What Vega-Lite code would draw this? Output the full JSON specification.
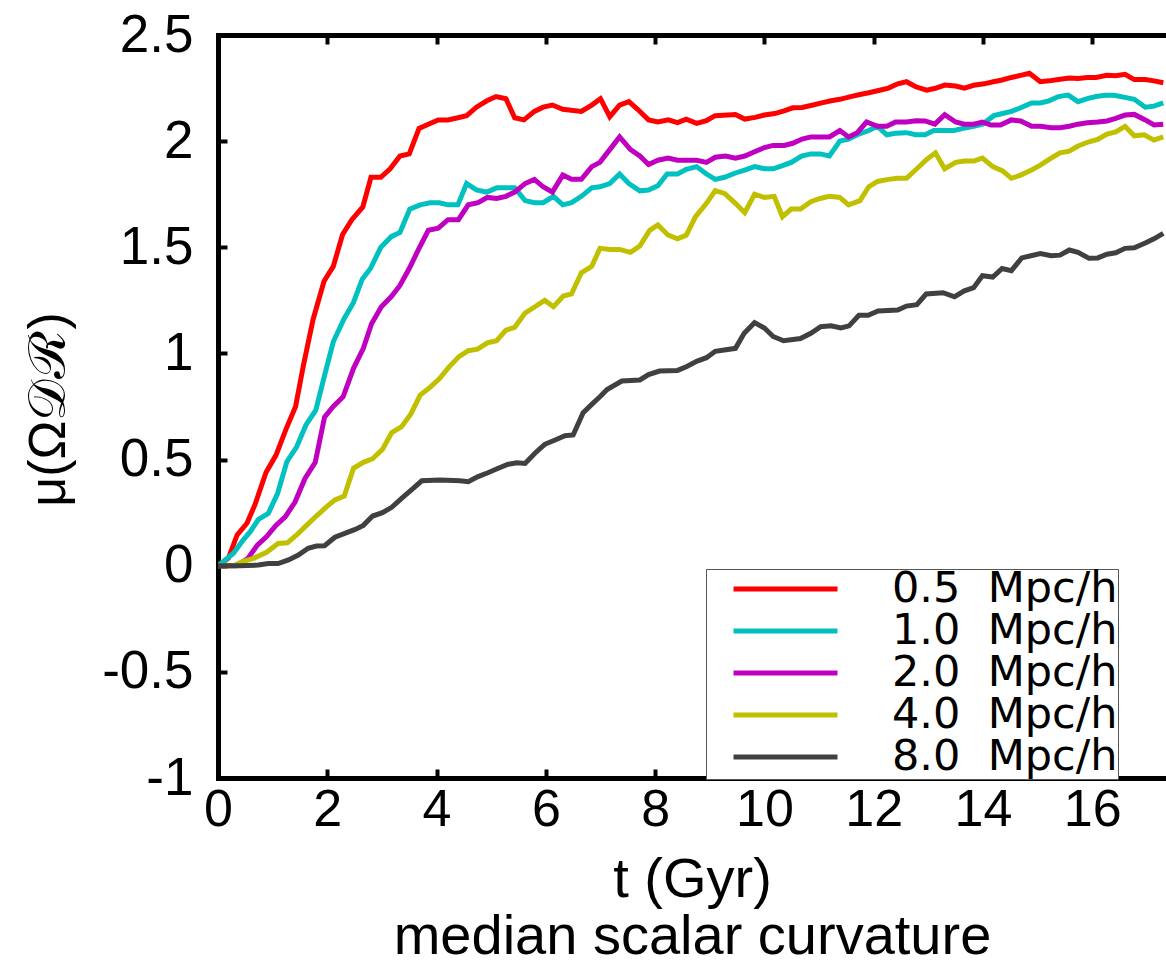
{
"$schema": "https://vega.github.io/schema/vega-lite/v6.json",
"width": 948, "height": 743,
"autosize": "none",
"padding": {"left": 218, "top": 35, "right": 0, "bottom": 186},
"background": "white",
"config": {"view": {"stroke": null}, "font": "Liberation Sans"},
"data": {"values": [
{"s":"0.5","t":0,"v":0},{"s":"0.5","t":0.19,"v":0.035},{"s":"0.5","t":0.35,"v":0.145},{"s":"0.5","t":0.53,"v":0.2},{"s":"0.5","t":0.68,"v":0.29},{"s":"0.5","t":0.88,"v":0.44},{"s":"0.5","t":1.06,"v":0.52},{"s":"0.5","t":1.24,"v":0.64},{"s":"0.5","t":1.42,"v":0.75},{"s":"0.5","t":1.56,"v":0.94},{"s":"0.5","t":1.74,"v":1.16},{"s":"0.5","t":1.94,"v":1.34},{"s":"0.5","t":2.11,"v":1.41},{"s":"0.5","t":2.28,"v":1.56},{"s":"0.5","t":2.45,"v":1.63},{"s":"0.5","t":2.65,"v":1.69},{"s":"0.5","t":2.8,"v":1.83},{"s":"0.5","t":2.98,"v":1.83},{"s":"0.5","t":3.15,"v":1.87},{"s":"0.5","t":3.33,"v":1.93},{"s":"0.5","t":3.5,"v":1.94},{"s":"0.5","t":3.68,"v":2.06},{"s":"0.5","t":3.85,"v":2.08},{"s":"0.5","t":4.03,"v":2.1},{"s":"0.5","t":4.21,"v":2.1},{"s":"0.5","t":4.39,"v":2.11},{"s":"0.5","t":4.55,"v":2.12},{"s":"0.5","t":4.73,"v":2.16},{"s":"0.5","t":4.92,"v":2.19},{"s":"0.5","t":5.09,"v":2.21},{"s":"0.5","t":5.27,"v":2.2},{"s":"0.5","t":5.43,"v":2.11},{"s":"0.5","t":5.6,"v":2.1},{"s":"0.5","t":5.79,"v":2.14},{"s":"0.5","t":5.95,"v":2.16},{"s":"0.5","t":6.12,"v":2.17},{"s":"0.5","t":6.31,"v":2.15},{"s":"0.5","t":6.65,"v":2.14},{"s":"0.5","t":6.84,"v":2.17},{"s":"0.5","t":7.0,"v":2.2},{"s":"0.5","t":7.17,"v":2.115},{"s":"0.5","t":7.35,"v":2.17},{"s":"0.5","t":7.52,"v":2.186},{"s":"0.5","t":7.68,"v":2.15},{"s":"0.5","t":7.88,"v":2.1},{"s":"0.5","t":8.05,"v":2.09},{"s":"0.5","t":8.24,"v":2.1},{"s":"0.5","t":8.41,"v":2.087},{"s":"0.5","t":8.57,"v":2.103},{"s":"0.5","t":8.76,"v":2.084},{"s":"0.5","t":8.94,"v":2.097},{"s":"0.5","t":9.1,"v":2.12},{"s":"0.5","t":9.47,"v":2.125},{"s":"0.5","t":9.64,"v":2.104},{"s":"0.5","t":9.83,"v":2.112},{"s":"0.5","t":10.0,"v":2.123},{"s":"0.5","t":10.19,"v":2.13},{"s":"0.5","t":10.36,"v":2.143},{"s":"0.5","t":10.52,"v":2.157},{"s":"0.5","t":10.69,"v":2.159},{"s":"0.5","t":10.89,"v":2.17},{"s":"0.5","t":11.05,"v":2.18},{"s":"0.5","t":11.22,"v":2.19},{"s":"0.5","t":11.38,"v":2.197},{"s":"0.5","t":11.58,"v":2.21},{"s":"0.5","t":11.75,"v":2.22},{"s":"0.5","t":11.91,"v":2.228},{"s":"0.5","t":12.11,"v":2.24},{"s":"0.5","t":12.27,"v":2.25},{"s":"0.5","t":12.44,"v":2.27},{"s":"0.5","t":12.6,"v":2.28},{"s":"0.5","t":12.77,"v":2.256},{"s":"0.5","t":12.97,"v":2.24},{"s":"0.5","t":13.13,"v":2.249},{"s":"0.5","t":13.3,"v":2.264},{"s":"0.5","t":13.5,"v":2.26},{"s":"0.5","t":13.66,"v":2.25},{"s":"0.5","t":13.83,"v":2.263},{"s":"0.5","t":14.02,"v":2.27},{"s":"0.5","t":14.19,"v":2.28},{"s":"0.5","t":14.35,"v":2.288},{"s":"0.5","t":14.52,"v":2.3},{"s":"0.5","t":14.69,"v":2.31},{"s":"0.5","t":14.85,"v":2.32},{"s":"0.5","t":15.05,"v":2.28},{"s":"0.5","t":15.21,"v":2.284},{"s":"0.5","t":15.38,"v":2.29},{"s":"0.5","t":15.58,"v":2.297},{"s":"0.5","t":15.74,"v":2.295},{"s":"0.5","t":15.91,"v":2.3},{"s":"0.5","t":16.07,"v":2.3},{"s":"0.5","t":16.27,"v":2.31},{"s":"0.5","t":16.43,"v":2.308},{"s":"0.5","t":16.6,"v":2.315},{"s":"0.5","t":16.77,"v":2.29},{"s":"0.5","t":16.97,"v":2.29},{"s":"0.5","t":17.13,"v":2.284},{"s":"0.5","t":17.3,"v":2.275},
{"s":"1.0","t":0,"v":0},{"s":"1.0","t":0.28,"v":0.058},{"s":"1.0","t":0.46,"v":0.121},{"s":"1.0","t":0.59,"v":0.16},{"s":"1.0","t":0.74,"v":0.218},{"s":"1.0","t":0.92,"v":0.246},{"s":"1.0","t":1.09,"v":0.34},{"s":"1.0","t":1.26,"v":0.49},{"s":"1.0","t":1.44,"v":0.56},{"s":"1.0","t":1.61,"v":0.663},{"s":"1.0","t":1.79,"v":0.733},{"s":"1.0","t":1.96,"v":0.906},{"s":"1.0","t":2.11,"v":1.055},{"s":"1.0","t":2.31,"v":1.165},{"s":"1.0","t":2.48,"v":1.24},{"s":"1.0","t":2.64,"v":1.35},{"s":"1.0","t":2.79,"v":1.4},{"s":"1.0","t":2.98,"v":1.5},{"s":"1.0","t":3.17,"v":1.55},{"s":"1.0","t":3.33,"v":1.57},{"s":"1.0","t":3.51,"v":1.68},{"s":"1.0","t":3.7,"v":1.7},{"s":"1.0","t":3.88,"v":1.71},{"s":"1.0","t":4.05,"v":1.71},{"s":"1.0","t":4.21,"v":1.7},{"s":"1.0","t":4.39,"v":1.7},{"s":"1.0","t":4.55,"v":1.8},{"s":"1.0","t":4.73,"v":1.77},{"s":"1.0","t":4.92,"v":1.76},{"s":"1.0","t":5.1,"v":1.78},{"s":"1.0","t":5.27,"v":1.78},{"s":"1.0","t":5.43,"v":1.78},{"s":"1.0","t":5.62,"v":1.72},{"s":"1.0","t":5.79,"v":1.71},{"s":"1.0","t":5.95,"v":1.71},{"s":"1.0","t":6.14,"v":1.74},{"s":"1.0","t":6.31,"v":1.7},{"s":"1.0","t":6.47,"v":1.71},{"s":"1.0","t":6.65,"v":1.74},{"s":"1.0","t":6.84,"v":1.78},{"s":"1.0","t":6.99,"v":1.785},{"s":"1.0","t":7.17,"v":1.8},{"s":"1.0","t":7.35,"v":1.845},{"s":"1.0","t":7.52,"v":1.8},{"s":"1.0","t":7.72,"v":1.766},{"s":"1.0","t":7.88,"v":1.77},{"s":"1.0","t":8.05,"v":1.79},{"s":"1.0","t":8.22,"v":1.845},{"s":"1.0","t":8.41,"v":1.845},{"s":"1.0","t":8.57,"v":1.867},{"s":"1.0","t":8.76,"v":1.88},{"s":"1.0","t":8.94,"v":1.845},{"s":"1.0","t":9.1,"v":1.82},{"s":"1.0","t":9.27,"v":1.83},{"s":"1.0","t":9.47,"v":1.85},{"s":"1.0","t":9.64,"v":1.864},{"s":"1.0","t":9.82,"v":1.88},{"s":"1.0","t":10.0,"v":1.87},{"s":"1.0","t":10.16,"v":1.87},{"s":"1.0","t":10.33,"v":1.885},{"s":"1.0","t":10.49,"v":1.9},{"s":"1.0","t":10.68,"v":1.93},{"s":"1.0","t":10.85,"v":1.94},{"s":"1.0","t":11.02,"v":1.94},{"s":"1.0","t":11.19,"v":1.93},{"s":"1.0","t":11.38,"v":2.0},{"s":"1.0","t":11.54,"v":2.01},{"s":"1.0","t":11.7,"v":2.03},{"s":"1.0","t":11.91,"v":2.05},{"s":"1.0","t":12.07,"v":2.07},{"s":"1.0","t":12.24,"v":2.03},{"s":"1.0","t":12.4,"v":2.037},{"s":"1.0","t":12.6,"v":2.04},{"s":"1.0","t":12.77,"v":2.03},{"s":"1.0","t":12.94,"v":2.03},{"s":"1.0","t":13.1,"v":2.05},{"s":"1.0","t":13.3,"v":2.05},{"s":"1.0","t":13.47,"v":2.05},{"s":"1.0","t":13.64,"v":2.06},{"s":"1.0","t":13.83,"v":2.07},{"s":"1.0","t":13.99,"v":2.08},{"s":"1.0","t":14.2,"v":2.12},{"s":"1.0","t":14.36,"v":2.13},{"s":"1.0","t":14.52,"v":2.14},{"s":"1.0","t":14.69,"v":2.157},{"s":"1.0","t":14.89,"v":2.18},{"s":"1.0","t":15.05,"v":2.18},{"s":"1.0","t":15.21,"v":2.19},{"s":"1.0","t":15.38,"v":2.21},{"s":"1.0","t":15.56,"v":2.217},{"s":"1.0","t":15.74,"v":2.186},{"s":"1.0","t":15.91,"v":2.2},{"s":"1.0","t":16.07,"v":2.21},{"s":"1.0","t":16.24,"v":2.216},{"s":"1.0","t":16.4,"v":2.216},{"s":"1.0","t":16.6,"v":2.206},{"s":"1.0","t":16.77,"v":2.197},{"s":"1.0","t":16.97,"v":2.16},{"s":"1.0","t":17.13,"v":2.165},{"s":"1.0","t":17.3,"v":2.18},
{"s":"2.0","t":0,"v":0},{"s":"2.0","t":0.34,"v":0},{"s":"2.0","t":0.55,"v":0.035},{"s":"2.0","t":0.72,"v":0.097},{"s":"2.0","t":0.89,"v":0.137},{"s":"2.0","t":1.06,"v":0.19},{"s":"2.0","t":1.23,"v":0.23},{"s":"2.0","t":1.41,"v":0.3},{"s":"2.0","t":1.59,"v":0.41},{"s":"2.0","t":1.78,"v":0.487},{"s":"2.0","t":1.95,"v":0.7},{"s":"2.0","t":2.11,"v":0.75},{"s":"2.0","t":2.29,"v":0.796},{"s":"2.0","t":2.48,"v":0.93},{"s":"2.0","t":2.66,"v":1.024},{"s":"2.0","t":2.81,"v":1.14},{"s":"2.0","t":2.99,"v":1.22},{"s":"2.0","t":3.18,"v":1.27},{"s":"2.0","t":3.33,"v":1.32},{"s":"2.0","t":3.5,"v":1.4},{"s":"2.0","t":3.67,"v":1.49},{"s":"2.0","t":3.85,"v":1.58},{"s":"2.0","t":4.03,"v":1.59},{"s":"2.0","t":4.21,"v":1.63},{"s":"2.0","t":4.4,"v":1.63},{"s":"2.0","t":4.58,"v":1.7},{"s":"2.0","t":4.76,"v":1.71},{"s":"2.0","t":4.93,"v":1.735},{"s":"2.0","t":5.1,"v":1.73},{"s":"2.0","t":5.27,"v":1.74},{"s":"2.0","t":5.43,"v":1.76},{"s":"2.0","t":5.62,"v":1.8},{"s":"2.0","t":5.79,"v":1.82},{"s":"2.0","t":5.95,"v":1.785},{"s":"2.0","t":6.12,"v":1.76},{"s":"2.0","t":6.31,"v":1.84},{"s":"2.0","t":6.47,"v":1.82},{"s":"2.0","t":6.65,"v":1.82},{"s":"2.0","t":6.84,"v":1.88},{"s":"2.0","t":6.99,"v":1.9},{"s":"2.0","t":7.17,"v":1.96},{"s":"2.0","t":7.35,"v":2.02},{"s":"2.0","t":7.55,"v":1.96},{"s":"2.0","t":7.72,"v":1.93},{"s":"2.0","t":7.88,"v":1.89},{"s":"2.0","t":8.05,"v":1.91},{"s":"2.0","t":8.24,"v":1.92},{"s":"2.0","t":8.41,"v":1.91},{"s":"2.0","t":8.57,"v":1.91},{"s":"2.0","t":8.76,"v":1.91},{"s":"2.0","t":8.94,"v":1.9},{"s":"2.0","t":9.1,"v":1.924},{"s":"2.0","t":9.29,"v":1.93},{"s":"2.0","t":9.47,"v":1.92},{"s":"2.0","t":9.64,"v":1.93},{"s":"2.0","t":9.82,"v":1.95},{"s":"2.0","t":10.0,"v":1.97},{"s":"2.0","t":10.16,"v":1.98},{"s":"2.0","t":10.36,"v":1.98},{"s":"2.0","t":10.52,"v":1.99},{"s":"2.0","t":10.69,"v":2.01},{"s":"2.0","t":10.85,"v":2.02},{"s":"2.0","t":11.03,"v":2.02},{"s":"2.0","t":11.19,"v":2.02},{"s":"2.0","t":11.38,"v":2.05},{"s":"2.0","t":11.54,"v":2.02},{"s":"2.0","t":11.7,"v":2.04},{"s":"2.0","t":11.87,"v":2.09},{"s":"2.0","t":12.07,"v":2.07},{"s":"2.0","t":12.24,"v":2.07},{"s":"2.0","t":12.4,"v":2.09},{"s":"2.0","t":12.6,"v":2.09},{"s":"2.0","t":12.77,"v":2.096},{"s":"2.0","t":12.94,"v":2.095},{"s":"2.0","t":13.12,"v":2.08},{"s":"2.0","t":13.3,"v":2.125},{"s":"2.0","t":13.5,"v":2.09},{"s":"2.0","t":13.66,"v":2.08},{"s":"2.0","t":13.83,"v":2.08},{"s":"2.0","t":13.99,"v":2.09},{"s":"2.0","t":14.15,"v":2.076},{"s":"2.0","t":14.32,"v":2.076},{"s":"2.0","t":14.52,"v":2.1},{"s":"2.0","t":14.69,"v":2.095},{"s":"2.0","t":14.89,"v":2.07},{"s":"2.0","t":15.05,"v":2.07},{"s":"2.0","t":15.25,"v":2.063},{"s":"2.0","t":15.41,"v":2.063},{"s":"2.0","t":15.58,"v":2.07},{"s":"2.0","t":15.74,"v":2.08},{"s":"2.0","t":15.91,"v":2.087},{"s":"2.0","t":16.1,"v":2.09},{"s":"2.0","t":16.27,"v":2.095},{"s":"2.0","t":16.43,"v":2.107},{"s":"2.0","t":16.6,"v":2.123},{"s":"2.0","t":16.77,"v":2.126},{"s":"2.0","t":16.97,"v":2.1},{"s":"2.0","t":17.13,"v":2.076},{"s":"2.0","t":17.3,"v":2.08},
{"s":"4.0","t":0,"v":0},{"s":"4.0","t":0.28,"v":0},{"s":"4.0","t":0.46,"v":0.02},{"s":"4.0","t":0.65,"v":0.035},{"s":"4.0","t":0.89,"v":0.063},{"s":"4.0","t":1.1,"v":0.105},{"s":"4.0","t":1.27,"v":0.108},{"s":"4.0","t":1.44,"v":0.145},{"s":"4.0","t":1.62,"v":0.19},{"s":"4.0","t":1.8,"v":0.234},{"s":"4.0","t":1.99,"v":0.278},{"s":"4.0","t":2.14,"v":0.31},{"s":"4.0","t":2.31,"v":0.328},{"s":"4.0","t":2.48,"v":0.459},{"s":"4.0","t":2.66,"v":0.487},{"s":"4.0","t":2.83,"v":0.504},{"s":"4.0","t":3.01,"v":0.548},{"s":"4.0","t":3.18,"v":0.627},{"s":"4.0","t":3.36,"v":0.655},{"s":"4.0","t":3.53,"v":0.715},{"s":"4.0","t":3.7,"v":0.804},{"s":"4.0","t":3.88,"v":0.84},{"s":"4.0","t":4.05,"v":0.88},{"s":"4.0","t":4.23,"v":0.937},{"s":"4.0","t":4.41,"v":0.985},{"s":"4.0","t":4.58,"v":1.013},{"s":"4.0","t":4.75,"v":1.02},{"s":"4.0","t":4.93,"v":1.05},{"s":"4.0","t":5.1,"v":1.06},{"s":"4.0","t":5.27,"v":1.11},{"s":"4.0","t":5.43,"v":1.123},{"s":"4.0","t":5.62,"v":1.19},{"s":"4.0","t":5.8,"v":1.22},{"s":"4.0","t":5.98,"v":1.25},{"s":"4.0","t":6.14,"v":1.22},{"s":"4.0","t":6.32,"v":1.27},{"s":"4.0","t":6.47,"v":1.28},{"s":"4.0","t":6.65,"v":1.38},{"s":"4.0","t":6.84,"v":1.41},{"s":"4.0","t":6.99,"v":1.495},{"s":"4.0","t":7.18,"v":1.49},{"s":"4.0","t":7.35,"v":1.49},{"s":"4.0","t":7.55,"v":1.476},{"s":"4.0","t":7.72,"v":1.506},{"s":"4.0","t":7.9,"v":1.58},{"s":"4.0","t":8.05,"v":1.605},{"s":"4.0","t":8.24,"v":1.557},{"s":"4.0","t":8.41,"v":1.54},{"s":"4.0","t":8.57,"v":1.557},{"s":"4.0","t":8.74,"v":1.644},{"s":"4.0","t":8.94,"v":1.707},{"s":"4.0","t":9.1,"v":1.767},{"s":"4.0","t":9.27,"v":1.754},{"s":"4.0","t":9.47,"v":1.707},{"s":"4.0","t":9.64,"v":1.663},{"s":"4.0","t":9.82,"v":1.75},{"s":"4.0","t":10.0,"v":1.735},{"s":"4.0","t":10.18,"v":1.74},{"s":"4.0","t":10.33,"v":1.644},{"s":"4.0","t":10.49,"v":1.68},{"s":"4.0","t":10.66,"v":1.68},{"s":"4.0","t":10.85,"v":1.715},{"s":"4.0","t":11.02,"v":1.73},{"s":"4.0","t":11.19,"v":1.74},{"s":"4.0","t":11.38,"v":1.735},{"s":"4.0","t":11.54,"v":1.7},{"s":"4.0","t":11.75,"v":1.72},{"s":"4.0","t":11.91,"v":1.785},{"s":"4.0","t":12.07,"v":1.81},{"s":"4.0","t":12.27,"v":1.82},{"s":"4.0","t":12.44,"v":1.825},{"s":"4.0","t":12.6,"v":1.825},{"s":"4.0","t":12.79,"v":1.87},{"s":"4.0","t":12.97,"v":1.914},{"s":"4.0","t":13.13,"v":1.945},{"s":"4.0","t":13.3,"v":1.87},{"s":"4.0","t":13.5,"v":1.9},{"s":"4.0","t":13.66,"v":1.906},{"s":"4.0","t":13.83,"v":1.906},{"s":"4.0","t":13.99,"v":1.92},{"s":"4.0","t":14.18,"v":1.88},{"s":"4.0","t":14.36,"v":1.86},{"s":"4.0","t":14.52,"v":1.825},{"s":"4.0","t":14.69,"v":1.84},{"s":"4.0","t":14.89,"v":1.864},{"s":"4.0","t":15.05,"v":1.887},{"s":"4.0","t":15.21,"v":1.914},{"s":"4.0","t":15.41,"v":1.945},{"s":"4.0","t":15.58,"v":1.953},{"s":"4.0","t":15.74,"v":1.977},{"s":"4.0","t":15.94,"v":1.997},{"s":"4.0","t":16.1,"v":2.008},{"s":"4.0","t":16.27,"v":2.033},{"s":"4.0","t":16.43,"v":2.044},{"s":"4.0","t":16.6,"v":2.07},{"s":"4.0","t":16.77,"v":2.025},{"s":"4.0","t":16.95,"v":2.03},{"s":"4.0","t":17.13,"v":2.005},{"s":"4.0","t":17.3,"v":2.02},
{"s":"8.0","t":0,"v":0},{"s":"8.0","t":0.4,"v":0},{"s":"8.0","t":0.74,"v":0.003},{"s":"8.0","t":0.92,"v":0.01},{"s":"8.0","t":1.1,"v":0.01},{"s":"8.0","t":1.29,"v":0.027},{"s":"8.0","t":1.47,"v":0.05},{"s":"8.0","t":1.65,"v":0.082},{"s":"8.0","t":1.8,"v":0.093},{"s":"8.0","t":1.95,"v":0.094},{"s":"8.0","t":2.14,"v":0.134},{"s":"8.0","t":2.32,"v":0.152},{"s":"8.0","t":2.5,"v":0.17},{"s":"8.0","t":2.66,"v":0.19},{"s":"8.0","t":2.83,"v":0.234},{"s":"8.0","t":3.01,"v":0.25},{"s":"8.0","t":3.18,"v":0.275},{"s":"8.0","t":3.36,"v":0.317},{"s":"8.0","t":3.54,"v":0.357},{"s":"8.0","t":3.73,"v":0.4},{"s":"8.0","t":4.06,"v":0.404},{"s":"8.0","t":4.43,"v":0.4},{"s":"8.0","t":4.58,"v":0.396},{"s":"8.0","t":4.76,"v":0.42},{"s":"8.0","t":4.94,"v":0.438},{"s":"8.0","t":5.13,"v":0.459},{"s":"8.0","t":5.31,"v":0.478},{"s":"8.0","t":5.47,"v":0.485},{"s":"8.0","t":5.62,"v":0.482},{"s":"8.0","t":5.8,"v":0.53},{"s":"8.0","t":5.98,"v":0.572},{"s":"8.0","t":6.17,"v":0.592},{"s":"8.0","t":6.35,"v":0.612},{"s":"8.0","t":6.5,"v":0.616},{"s":"8.0","t":6.68,"v":0.72},{"s":"8.0","t":6.84,"v":0.76},{"s":"8.0","t":6.99,"v":0.796},{"s":"8.0","t":7.12,"v":0.83},{"s":"8.0","t":7.39,"v":0.87},{"s":"8.0","t":7.72,"v":0.875},{"s":"8.0","t":7.88,"v":0.9},{"s":"8.0","t":8.08,"v":0.917},{"s":"8.0","t":8.41,"v":0.92},{"s":"8.0","t":8.57,"v":0.937},{"s":"8.0","t":8.77,"v":0.964},{"s":"8.0","t":8.94,"v":0.98},{"s":"8.0","t":9.1,"v":1.01},{"s":"8.0","t":9.47,"v":1.024},{"s":"8.0","t":9.63,"v":1.095},{"s":"8.0","t":9.82,"v":1.145},{"s":"8.0","t":10.0,"v":1.12},{"s":"8.0","t":10.16,"v":1.08},{"s":"8.0","t":10.35,"v":1.06},{"s":"8.0","t":10.66,"v":1.07},{"s":"8.0","t":10.85,"v":1.095},{"s":"8.0","t":11.03,"v":1.126},{"s":"8.0","t":11.22,"v":1.13},{"s":"8.0","t":11.4,"v":1.12},{"s":"8.0","t":11.55,"v":1.13},{"s":"8.0","t":11.73,"v":1.18},{"s":"8.0","t":11.9,"v":1.18},{"s":"8.0","t":12.08,"v":1.2},{"s":"8.0","t":12.44,"v":1.204},{"s":"8.0","t":12.6,"v":1.223},{"s":"8.0","t":12.79,"v":1.23},{"s":"8.0","t":12.96,"v":1.28},{"s":"8.0","t":13.27,"v":1.286},{"s":"8.0","t":13.48,"v":1.267},{"s":"8.0","t":13.66,"v":1.295},{"s":"8.0","t":13.83,"v":1.31},{"s":"8.0","t":13.99,"v":1.366},{"s":"8.0","t":14.18,"v":1.36},{"s":"8.0","t":14.35,"v":1.4},{"s":"8.0","t":14.52,"v":1.39},{"s":"8.0","t":14.71,"v":1.45},{"s":"8.0","t":14.88,"v":1.46},{"s":"8.0","t":15.05,"v":1.47},{"s":"8.0","t":15.25,"v":1.46},{"s":"8.0","t":15.41,"v":1.463},{"s":"8.0","t":15.58,"v":1.487},{"s":"8.0","t":15.74,"v":1.476},{"s":"8.0","t":15.94,"v":1.448},{"s":"8.0","t":16.1,"v":1.45},{"s":"8.0","t":16.27,"v":1.467},{"s":"8.0","t":16.43,"v":1.474},{"s":"8.0","t":16.6,"v":1.495},{"s":"8.0","t":16.77,"v":1.498},{"s":"8.0","t":16.97,"v":1.52},{"s":"8.0","t":17.13,"v":1.54},{"s":"8.0","t":17.3,"v":1.566}
]},
"layer": [
{"mark": {"type": "line", "strokeWidth": 5, "clip": true},
 "encoding": {
  "x": {"field": "t", "type": "quantitative",
        "scale": {"domain": [0, 17.35], "nice": false, "zero": false},
        "axis": {"orient": "bottom", "values": [0,2,4,6,8,10,12,14,16], "labelExpr": "'' + datum.value",
                 "labelFontSize": 52, "labelColor": "black", "labelPadding": 15, "labelFlush": false,
                 "tickSize": -9, "tickWidth": 4, "tickColor": "black",
                 "domainColor": "black", "domainWidth": 5, "domainCap": "square", "grid": false,
                 "title": ["t (Gyr)", "median scalar curvature"], "titleFontSize": 56, "titleFontWeight": "normal",
                 "titleColor": "black", "titleLineHeight": 57, "titleBaseline": "alphabetic", "titleY": 118}},
  "y": {"field": "v", "type": "quantitative",
        "scale": {"domain": [-1, 2.5], "nice": false, "zero": false},
        "axis": {"values": [-1,-0.5,0,0.5,1,1.5,2,2.5], "labelExpr": "'' + datum.value",
                 "labelFontSize": 53, "labelColor": "black", "labelPadding": 34, "labelFlush": false,
                 "tickSize": -9, "tickWidth": 4, "tickColor": "black",
                 "domainColor": "black", "domainWidth": 5, "domainCap": "square", "grid": false,
                 "title": "μ(Ω𝒟ℛ)", "titleFontSize": 52, "titleFontWeight": "normal", "titleColor": "black",
                 "titleAngle": -90, "titleAlign": "center", "titleBaseline": "middle", "titleX": -170, "titleY": 374}},
  "color": {"field": "s", "type": "nominal",
        "scale": {"domain": ["0.5","1.0","2.0","4.0","8.0"], "range": ["#ff0000","#00c0c0","#c000c0","#c0c000","#404040"]},
        "legend": {"orient": "none", "legendX": 488, "legendY": 534, "title": null,
                   "symbolType": "stroke", "symbolSize": 10816, "symbolStrokeWidth": 5, "symbolOffset": 25,
                   "clipHeight": 40, "rowPadding": -2.4, "padding": 0,
                   "labelFont": "DejaVu Sans", "labelFontSize": 43, "labelColor": "black", "labelOffset": 52, "labelLimit": 0,
                   "labelExpr": "datum.label + '\u00a0\u00a0Mpc/h'",
                   "strokeColor": "#555555", "fillColor": "white"}}
 }},
{"mark": {"type": "line", "opacity": 0},
 "encoding": {
  "x": {"field": "t", "type": "quantitative",
        "axis": {"orient": "top", "values": [0,2,4,6,8,10,12,14,16], "labels": false,
                 "tickSize": -9, "tickWidth": 4, "tickColor": "black",
                 "domainColor": "black", "domainWidth": 5, "domainCap": "square", "grid": false, "title": null}},
  "y": {"field": "v", "type": "quantitative"}
 }}
],
"resolve": {"axis": {"x": "independent"}}
}
